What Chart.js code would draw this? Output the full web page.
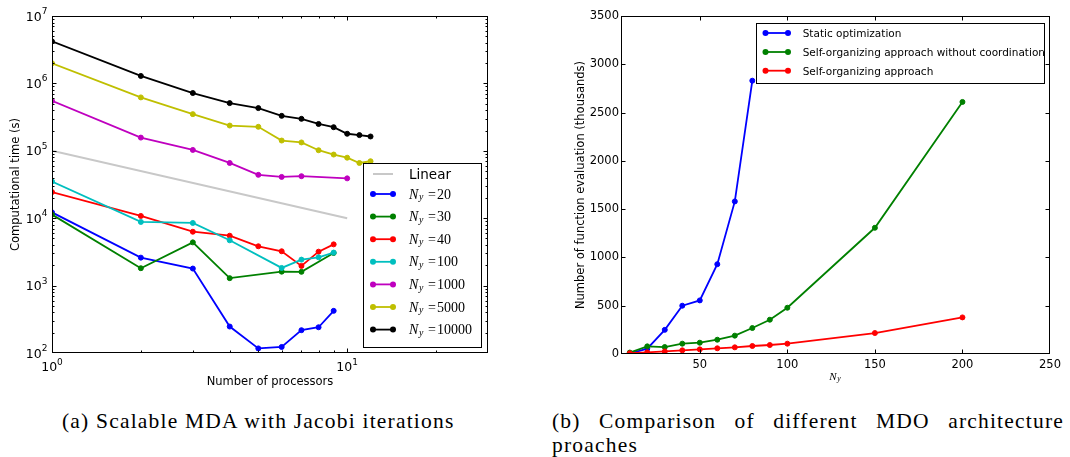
<!DOCTYPE html>
<html>
<head>
<meta charset="utf-8">
<script src="https://cdn.jsdelivr.net/npm/chart.js@4.4.0/dist/chart.umd.min.js"></script>
<style>
    html, body { margin: 0; padding: 0; background: #fff; }
    body { width: 1070px; height: 457px; position: relative; overflow: hidden; }
    canvas { position: absolute; top: 0; }
    #leftChart { left: 0; }
    #rightChart { left: 540px; }
    .caption { position: absolute; font-family: 'Liberation Serif', serif; font-size: 21.5px; line-height: 24px; color: #000; letter-spacing: 1.2px; white-space: nowrap; }
    #capA { left: 62px; top: 409px; }
    #capB { left: 552px; top: 409px; width: 512px; }
    #capB .l1 { display: block; text-align: justify; text-align-last: justify; }
</style>
</head>
<body>
<canvas id="leftChart" width="540" height="400"></canvas>
<canvas id="rightChart" width="530" height="400"></canvas>
<div class="caption" id="capA">(a) Scalable MDA with Jacobi iterations</div>
<div class="caption" id="capB"><span class="l1">(b) Comparison of different MDO architecture</span>proaches</div>
<script>
// ---- (a) computational time vs number of processors ----
const linearProcs = [1, 10];
const linearTime = [100000, 10000];

const ny20Procs = [1, 2, 3, 4, 5, 6, 7, 8, 9];
const ny20Time = [12200, 2600, 1790, 247, 117, 123, 218, 241, 422];
const ny30Procs = [1, 2, 3, 4, 6, 7, 9];
const ny30Time = [11300, 1810, 4380, 1290, 1610, 1600, 3050];
const ny40Procs = [1, 2, 3, 4, 5, 6, 7, 8, 9];
const ny40Time = [24400, 10800, 6300, 5500, 3830, 3230, 1960, 3190, 4090];
const ny100Procs = [1, 2, 3, 4, 6, 7, 8, 9];
const ny100Time = [35000, 8800, 8500, 4700, 1830, 2430, 2630, 3090];
const ny1000Procs = [1, 2, 3, 4, 5, 6, 7, 10];
const ny1000Time = [550000, 157000, 103000, 66000, 44000, 41000, 42000, 39000];
const ny5000Procs = [1, 2, 3, 4, 5, 6, 7, 8, 9, 10, 11, 12];
const ny5000Time = [1990000, 620000, 350000, 237000, 227000, 142000, 133000, 102000, 88000, 79000, 66000, 70000];
const ny10000Procs = [1, 2, 3, 4, 5, 6, 7, 8, 9, 10, 11, 12];
const ny10000Time = [4200000, 1290000, 720000, 510000, 430000, 330000, 298000, 250000, 224000, 179000, 171000, 163000];

const nySizes = ['20', '30', '40', '100', '1000', '5000', '10000'];
const nyColors = ['#0000ff', '#008000', '#ff0000', '#00bfbf', '#bf00bf', '#bfbf00', '#000000'];

// ---- (b) function evaluations vs N_y ----
const nyValues = [10, 20, 30, 40, 50, 60, 70, 80, 90, 100, 150, 200];
const staticNy = [10, 20, 30, 40, 50, 60, 70, 80];
const staticEvals = [5, 55, 250, 500, 555, 930, 1580, 2830];
const noCoordEvals = [15, 79, 72, 107, 117, 148, 190, 269, 355, 479, 1307, 2610];
const selfOrgEvals = [8, 17, 27, 38, 48, 59, 69, 83, 93, 107, 217, 379];
const approachNames = ['Static optimization', 'Self-organizing approach without coordination', 'Self-organizing approach'];
const approachColors = ['#0000ff', '#008000', '#ff0000'];

const nyTicks = [50, 100, 150, 200, 250];
const evalTicks = [0, 500, 1000, 1500, 2000, 2500, 3000, 3500];

Chart.defaults.font.family = '"DejaVu Sans", sans-serif';
Chart.defaults.color = '#000';

function logTicks(min, max) {
    const out = [];
    for (let e = Math.floor(Math.log10(min)); Math.pow(10, e) <= max; e++) {
        for (let m = 1; m < 10; m++) {
            const v = m * Math.pow(10, e);
            if (v >= min && v <= max) out.push(v);
        }
    }
    return out;
}

function isDecade(v) {
    const l = Math.log10(v);
    return Math.abs(l - Math.round(l)) < 1e-9;
}

function toPoints(xs, ys) {
    return xs.map((x, i) => ({ x: x, y: ys[i] }));
}

// italic N with subscript y, optionally followed by "=value"
function drawNy(ctx, x, y, size, value) {
    ctx.textAlign = 'left';
    ctx.textBaseline = 'alphabetic';
    ctx.font = `italic ${size}px "Liberation Serif"`;
    ctx.fillText('N', x, y);
    const wN = ctx.measureText('N').width;
    ctx.font = `italic ${size * 0.7}px "Liberation Serif"`;
    ctx.fillText('y', x + wN + 0.7, y + size * 0.12);
    const wy = ctx.measureText('y').width;
    if (value === undefined) return;
    ctx.font = `${size}px "Liberation Serif"`;
    const xe = x + wN + 0.7 + wy + 4.6;
    ctx.fillText('=', xe, y);
    ctx.fillText(value, xe + ctx.measureText('=').width + 1, y);
}

const axesFrame = {
    id: 'axesFrame',
    afterDatasetsDraw(chart, args, opts) {
        const { ctx, chartArea: a } = chart;
        const xs = chart.scales.x, ys = chart.scales.y;
        const L = Math.round(a.left) + 0.5, R = Math.round(a.right) - 0.5;
        const T = Math.round(a.top) + 0.5, B = Math.round(a.bottom) - 0.5;
        ctx.save();
        ctx.strokeStyle = '#000';
        ctx.lineWidth = 1;
        ctx.beginPath();
        xs.ticks.forEach(t => {
            const p = Math.round(xs.getPixelForValue(t.value)) + 0.5;
            if (p <= L + 1 || p >= R - 1) return;
            const len = (!opts.log || isDecade(t.value)) ? 4 : 2;
            ctx.moveTo(p, B); ctx.lineTo(p, B - len);
            ctx.moveTo(p, T); ctx.lineTo(p, T + len);
        });
        ys.ticks.forEach(t => {
            const p = Math.round(ys.getPixelForValue(t.value)) + 0.5;
            if (p <= T + 1 || p >= B - 1) return;
            const len = (!opts.log || isDecade(t.value)) ? 4 : 2;
            ctx.moveTo(L, p); ctx.lineTo(L + len, p);
            ctx.moveTo(R, p); ctx.lineTo(R - len, p);
        });
        ctx.stroke();
        ctx.strokeRect(L, T, R - L, B - T);

        ctx.fillStyle = '#000';
        if (opts.log) {
            // 10^n labels
            const big = '12.5px "DejaVu Sans"', small = '9px "DejaVu Sans"';
            ctx.textBaseline = 'alphabetic';
            ctx.textAlign = 'left';
            xs.ticks.filter(t => isDecade(t.value)).forEach(t => {
                const p = xs.getPixelForValue(t.value);
                const e = String(Math.round(Math.log10(t.value)));
                ctx.font = big; const w1 = ctx.measureText('10').width;
                ctx.font = small; const w2 = ctx.measureText(e).width;
                const x0 = p - (w1 + w2) / 2;
                ctx.font = big; ctx.fillText('10', x0, a.bottom + 18.3);
                ctx.font = small; ctx.fillText(e, x0 + w1, a.bottom + 12.4);
            });
            ys.ticks.filter(t => isDecade(t.value)).forEach(t => {
                const p = ys.getPixelForValue(t.value);
                const e = String(Math.round(Math.log10(t.value)));
                ctx.font = big; const w1 = ctx.measureText('10').width;
                ctx.font = small; const w2 = ctx.measureText(e).width;
                const x0 = a.left - 4.5 - w1 - w2;
                ctx.font = big; ctx.fillText('10', x0, p + 4.6);
                ctx.font = small; ctx.fillText(e, x0 + w1, p - 2.1);
            });
        }
        if (opts.xTitleNy) {
            drawNy(ctx, opts.xTitleNy[0], opts.xTitleNy[1], 11);
        }

        // legend box
        const lg = opts.legend;
        if (lg) {
            const [l, t, r, b] = lg.box;
            ctx.fillStyle = '#fff';
            ctx.fillRect(l, t, r - l, b - t);
            ctx.strokeRect(Math.round(l) + 0.5, Math.round(t) + 0.5, Math.round(r - l), Math.round(b - t));
            lg.rows.forEach(row => {
                ctx.strokeStyle = row.color;
                ctx.lineWidth = row.marker ? 1.8 : 2;
                ctx.beginPath();
                ctx.moveTo(lg.lineX[0], row.y); ctx.lineTo(lg.lineX[1], row.y);
                ctx.stroke();
                if (row.marker) {
                    ctx.fillStyle = row.color;
                    lg.lineX.forEach(px => {
                        ctx.beginPath();
                        ctx.arc(px, row.y, 3, 0, Math.PI * 2);
                        ctx.fill();
                    });
                }
                ctx.fillStyle = '#000';
                if (row.ny) {
                    drawNy(ctx, lg.textX, row.y + 4.5, 14, row.ny);
                } else {
                    ctx.font = lg.font;
                    ctx.textAlign = 'left';
                    ctx.textBaseline = 'alphabetic';
                    ctx.fillText(row.label, lg.textX, row.y + lg.baseline);
                }
            });
        }
        ctx.restore();
    }
};

function lineDataset(points, color, order) {
    return {
        data: points,
        borderColor: color,
        backgroundColor: color,
        borderWidth: 1.8,
        pointRadius: 2.5,
        pointBorderWidth: 1,
        pointBorderColor: color,
        pointBackgroundColor: color,
        tension: 0,
        fill: false,
        order: order
    };
}

// ---------- chart (a) ----------
const leftProcs = [ny20Procs, ny30Procs, ny40Procs, ny100Procs, ny1000Procs, ny5000Procs, ny10000Procs];
const leftTimes = [ny20Time, ny30Time, ny40Time, ny100Time, ny1000Time, ny5000Time, ny10000Time];

const leftDatasets = [{
    data: toPoints(linearProcs, linearTime),
    borderColor: '#c8c8c8',
    borderWidth: 2,
    pointRadius: 0,
    fill: false,
    order: 20
}];
nySizes.forEach((n, i) => {
    leftDatasets.push(lineDataset(toPoints(leftProcs[i], leftTimes[i]), nyColors[i], 10 - i));
});

const leftRowsY = [174, 194, 216.6, 239.2, 261.8, 284.4, 307, 329.6];
const leftRows = [{ y: leftRowsY[0], color: '#c8c8c8', marker: false, label: 'Linear' }];
nySizes.forEach((n, i) => leftRows.push({ y: leftRowsY[i + 1], color: nyColors[i], marker: true, ny: n }));

new Chart(document.getElementById('leftChart'), {
    type: 'line',
    data: { datasets: leftDatasets },
    options: {
        responsive: false,
        animation: false,
        events: [],
        layout: { padding: { top: 16, right: 52, left: 0, bottom: 0 } },
        plugins: {
            legend: { display: false },
            tooltip: { enabled: false },
            axesFrame: {
                log: true,
                legend: {
                    box: [363, 163, 480.7, 346.7],
                    lineX: [373, 393],
                    textX: 409,
                    font: '13.5px "DejaVu Sans"',
                    baseline: 5.3,
                    rows: leftRows
                }
            }
        },
        scales: {
            x: {
                type: 'logarithmic',
                min: 1,
                max: 30,
                afterBuildTicks: s => { s.ticks = logTicks(1, 30).map(v => ({ value: v })); },
                afterFit: s => { s.height = 47; },
                grid: { display: false },
                border: { display: false },
                ticks: { display: false },
                title: { display: true, text: 'Number of processors', font: { size: 11.5 }, padding: { top: 0, bottom: 10.8 } }
            },
            y: {
                type: 'logarithmic',
                min: 100,
                max: 10000000,
                afterBuildTicks: s => { s.ticks = logTicks(100, 10000000).map(v => ({ value: v })); },
                afterFit: s => { s.width = 52; },
                grid: { display: false },
                border: { display: false },
                ticks: { display: false },
                title: { display: true, text: 'Computational time (s)', font: { size: 11.5 }, padding: { top: 9.5, bottom: 0 } }
            }
        }
    },
    plugins: [axesFrame]
});

// ---------- chart (b) ----------
const rightSeries = [toPoints(staticNy, staticEvals), toPoints(nyValues, noCoordEvals), toPoints(nyValues, selfOrgEvals)];
const rightDatasets = rightSeries.map((pts, i) => lineDataset(pts, approachColors[i], 10 - i));
const rightRowsY = [33, 52, 70.7];
const rightRows = approachNames.map((name, i) => ({ y: rightRowsY[i], color: approachColors[i], marker: true, label: name }));

new Chart(document.getElementById('rightChart'), {
    type: 'line',
    data: { datasets: rightDatasets },
    options: {
        responsive: false,
        animation: false,
        events: [],
        layout: { padding: { top: 16, right: 20, left: 0, bottom: 0 } },
        plugins: {
            legend: { display: false },
            tooltip: { enabled: false },
            axesFrame: {
                log: false,
                xTitleNy: [289.3, 380],
                legend: {
                    box: [215.7, 22.7, 504, 82.7],
                    lineX: [225.5, 248],
                    textX: 262.7,
                    font: '10.5px "DejaVu Sans"',
                    baseline: 4.2,
                    rows: rightRows
                }
            }
        },
        scales: {
            x: {
                type: 'linear',
                min: 5,
                max: 250,
                afterBuildTicks: s => { s.ticks = nyTicks.map(v => ({ value: v })); },
                afterFit: s => { s.height = 46; },
                grid: { display: false, drawTicks: false },
                border: { display: false },
                ticks: { font: { size: 11.5 }, padding: 4, maxRotation: 0, callback: v => String(v) }
            },
            y: {
                type: 'linear',
                min: 0,
                max: 3500,
                afterBuildTicks: s => { s.ticks = evalTicks.map(v => ({ value: v })); },
                afterFit: s => { s.width = 81; },
                grid: { display: false, drawTicks: false },
                border: { display: false },
                ticks: { font: { size: 11.5 }, padding: 2, callback: v => String(v) },
                title: { display: true, text: 'Number of function evaluation (thousands)', font: { size: 11.5 }, padding: { top: 33.8, bottom: 0 } }
            }
        }
    },
    plugins: [axesFrame]
});
</script>
</body>
</html>
